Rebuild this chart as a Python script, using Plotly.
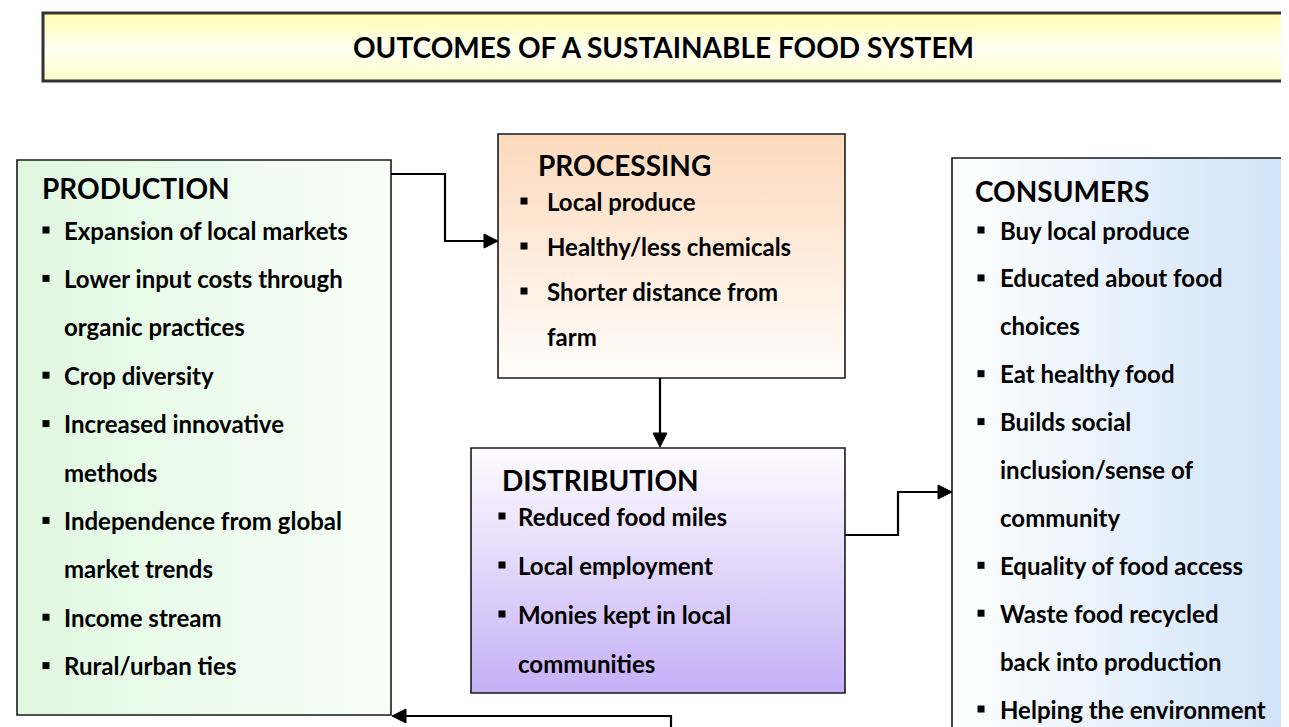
import plotly.graph_objects as go

W, H = 1289, 727

# ---------------- content ----------------
title_text = "OUTCOMES OF A SUSTAINABLE FOOD SYSTEM"

production_heading = "PRODUCTION"
production_items = [
    ["Expansion of local markets"],
    ["Lower input costs through", "organic practices"],
    ["Crop diversity"],
    ["Increased innovative", "methods"],
    ["Independence from global", "market trends"],
    ["Income stream"],
    ["Rural/urban ties"],
]

processing_heading = "PROCESSING"
processing_items = [
    ["Local produce"],
    ["Healthy/less chemicals"],
    ["Shorter distance from", "farm"],
]

distribution_heading = "DISTRIBUTION"
distribution_items = [
    ["Reduced food miles"],
    ["Local employment"],
    ["Monies kept in local", "communities"],
]

consumers_heading = "CONSUMERS"
consumers_items = [
    ["Buy local produce"],
    ["Educated about food", "choices"],
    ["Eat healthy food"],
    ["Builds social", "inclusion/sense of", "community"],
    ["Equality of food access"],
    ["Waste food recycled", "back into production"],
    ["Helping the environment"],
]

FONT = "Lato, 'Open Sans', sans-serif"
ITEM_SIZE = 24
HEAD_SIZE = 28

# ---------------- layout of boxes ----------------
boxes = [
    dict(heading=production_heading, items=production_items,
         rect=(9, 152, 383, 707), head=(32, 180), bullet_x=38, text_x=54,
         y0=222, dy=48.4, grad="horizontal",
         scale=[[0, "#e0f7e0"], [1, "#f8fff8"]]),
    dict(heading=processing_heading, items=processing_items,
         rect=(490, 126, 837, 370), head=(528, 157), bullet_x=516, text_x=537,
         y0=193, dy=45, grad="vertical",
         scale=[[0, "#fcdabc"], [1, "#fffdfb"]]),
    dict(heading=distribution_heading, items=distribution_items,
         rect=(463, 440, 837, 685), head=(492, 472), bullet_x=494, text_x=508,
         y0=508, dy=49, grad="vertical",
         scale=[[0, "#fdfcff"], [1, "#c6b0f6"]]),
    dict(heading=consumers_heading, items=consumers_items,
         rect=(944, 150, 1300, 745), head=(965, 183), bullet_x=973, text_x=990,
         y0=222, dy=47.9, grad="horizontal",
         scale=[[0, "#ffffff"], [1, "#cde1f7"]]),
]

fig = go.Figure()
shapes = []
annotations = []


def grad_rect(x0, y0, x1, y1, orient, scale):
    if orient == "vertical":
        start, stop = y0, y1
    else:
        start, stop = x0, x1
    fig.add_trace(go.Scatter(
        x=[x0, x1, x1, x0, x0], y=[y0, y0, y1, y1, y0],
        mode="lines", line=dict(width=0), fill="toself",
        fillgradient=dict(type=orient, colorscale=scale, start=start, stop=stop),
        hoverinfo="skip", showlegend=False))


# title box
grad_rect(35, 5, 1300, 73, "vertical",
          [[0, "#ffffb0"], [0.55, "#fffff4"], [1, "#ffffc6"]])
shapes.append(dict(type="rect", x0=35, y0=5, x1=1300, y1=73,
                   line=dict(color="#333333", width=3), layer="above"))
annotations.append(dict(x=655, y=39, text="<b>%s</b>" % title_text,
                        showarrow=False, xanchor="center", yanchor="middle",
                        font=dict(family=FONT, size=HEAD_SIZE, color="black")))

bx, by = [], []
for b in boxes:
    x0, y0, x1, y1 = b["rect"]
    grad_rect(x0, y0, x1, y1, b["grad"], b["scale"])
    shapes.append(dict(type="rect", x0=x0, y0=y0, x1=x1, y1=y1,
                       line=dict(color="#1a1a1a", width=1.6), layer="above"))
    annotations.append(dict(x=b["head"][0], y=b["head"][1],
                            text="<b>%s</b>" % b["heading"], showarrow=False,
                            xanchor="left", yanchor="middle",
                            font=dict(family=FONT, size=HEAD_SIZE, color="black")))
    k = 0
    for item in b["items"]:
        for j, line in enumerate(item):
            yy = b["y0"] + k * b["dy"]
            if j == 0:
                bx.append(b["bullet_x"])
                by.append(yy)
            annotations.append(dict(x=b["text_x"], y=yy, text="<b>%s</b>" % line,
                                    showarrow=False, xanchor="left", yanchor="middle",
                                    font=dict(family=FONT, size=ITEM_SIZE, color="black")))
            k += 1

fig.add_trace(go.Scatter(x=bx, y=by, mode="markers",
                         marker=dict(symbol="square", size=7, color="black"),
                         hoverinfo="skip", showlegend=False))

# connectors
LC = "#000000"
paths = [
    "M383,166 L437,166 L437,233 L478,233",
    "M652,370 L652,426",
    "M837,527 L890,527 L890,484 L932,484",
    "M663,730 L663,708 L396,708",
]
for p in paths:
    shapes.append(dict(type="path", path=p, line=dict(color=LC, width=2.2), layer="above"))

heads = [
    "M490,233 L476,226 L476,240 Z",
    "M652,439 L645,425 L659,425 Z",
    "M944,484 L930,477 L930,491 Z",
    "M384,708 L398,701 L398,715 Z",
]
for p in heads:
    shapes.append(dict(type="path", path=p, fillcolor=LC,
                       line=dict(color=LC, width=1), layer="above"))

fig.update_layout(
    width=W, height=H,
    margin=dict(l=0, r=0, t=0, b=0),
    paper_bgcolor="white", plot_bgcolor="white",
    xaxis=dict(range=[0, W], visible=False, fixedrange=True),
    yaxis=dict(range=[H, 0], visible=False, fixedrange=True),
    shapes=shapes, annotations=annotations, showlegend=False,
)

fig.write_html("out.html")
